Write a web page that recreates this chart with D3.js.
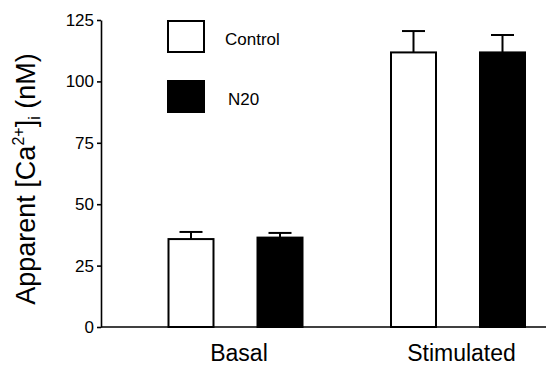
<!DOCTYPE html>
<html>
<head>
<meta charset="utf-8">
<script src="https://cdn.jsdelivr.net/npm/d3@7"></script>
<style>
  html, body { margin: 0; padding: 0; background: #fff; }
  svg { display: block; font-family: "Liberation Sans", Arial, sans-serif; }
</style>
</head>
<body>
<svg id="chart" width="546" height="365"></svg>
<script>
const categories = ["Basal", "Stimulated"];
const series = ["Control", "N20"];
const means = {
  "Control": [35.8, 111.8],
  "N20": [36.4, 111.8]
};
const errors = {
  "Control": [2.9, 8.7],
  "N20": [1.9, 7.1]
};
const yTicks = [0, 25, 50, 75, 100, 125];
const fills = { "Control": "#ffffff", "N20": "#000000" };

const svg = d3.select("#chart");
const y = d3.scaleLinear().domain([0, 125]).range([327, 20]);
const x = d3.scalePoint().domain(categories).range([235.5, 458]);
const xs = d3.scaleBand().domain(series).range([-67, 67]).paddingInner(0.4944);

// y axis
const yAxis = d3.axisLeft(y).tickValues(yTicks).tickSize(4).tickSizeOuter(0).tickPadding(3);
const gy = svg.append("g").attr("transform", "translate(101,0)").call(yAxis);
gy.select(".domain").attr("stroke", "#000").attr("stroke-width", 1.6);
gy.selectAll(".tick line").attr("stroke", "#000").attr("stroke-width", 1.6);
gy.selectAll(".tick text").attr("font-size", 17).attr("fill", "#000")
  .attr("font-family", "'Liberation Sans', Arial, sans-serif");

// x baseline
svg.append("line").attr("x1", 101).attr("x2", 546)
  .attr("y1", y(0)).attr("y2", y(0)).attr("stroke", "#000").attr("stroke-width", 1.6);

// x axis labels
const xAxis = d3.axisBottom(x).tickSize(0).tickPadding(18);
const gx = svg.append("g").attr("transform", `translate(3,${y(0)})`).call(xAxis);
gx.select(".domain").remove();
gx.selectAll(".tick text").attr("font-size", 23).attr("fill", "#000")
  .attr("font-family", "'Liberation Sans', Arial, sans-serif");

// bars and error bars
series.forEach(s => {
  categories.forEach((c, i) => {
    const x0 = x(c) + xs(s);
    const bw = xs.bandwidth();
    const v = means[s][i];
    const e = errors[s][i];
    svg.append("line")
      .attr("x1", x0 + bw / 2).attr("x2", x0 + bw / 2)
      .attr("y1", y(v)).attr("y2", y(v + e))
      .attr("stroke", "#000").attr("stroke-width", 2);
    svg.append("line")
      .attr("x1", x0 + bw / 2 - 11.5).attr("x2", x0 + bw / 2 + 11.5)
      .attr("y1", y(v + e)).attr("y2", y(v + e))
      .attr("stroke", "#000").attr("stroke-width", 2);
    svg.append("rect")
      .attr("x", x0).attr("y", y(v))
      .attr("width", bw).attr("height", y(0) - y(v))
      .attr("fill", fills[s]).attr("stroke", "#000").attr("stroke-width", 2);
  });
});

// legend
const legend = svg.append("g");
series.forEach((s, i) => {
  const ly = 21 + i * 60;
  legend.append("rect").attr("x", 168).attr("y", ly).attr("width", 36).attr("height", 31)
    .attr("fill", fills[s]).attr("stroke", "#000").attr("stroke-width", 2);
  legend.append("text").attr("x", s === "N20" ? 228 : 225).attr("y", ly + 24)
    .attr("font-size", 17).attr("fill", "#000").text(s);
});

// y title
const title = svg.append("text")
  .attr("transform", "translate(35,179) rotate(-90)")
  .attr("text-anchor", "middle")
  .attr("font-size", 27).attr("fill", "#000");
title.append("tspan").text("Apparent [Ca");
title.append("tspan").attr("font-size", 16).attr("dy", -11).text("2+");
title.append("tspan").attr("dy", 11).text("]");
title.append("tspan").attr("font-size", 16).attr("dy", 5).text("i");
title.append("tspan").attr("dy", -5).text(" (nM)");
</script>
</body>
</html>
